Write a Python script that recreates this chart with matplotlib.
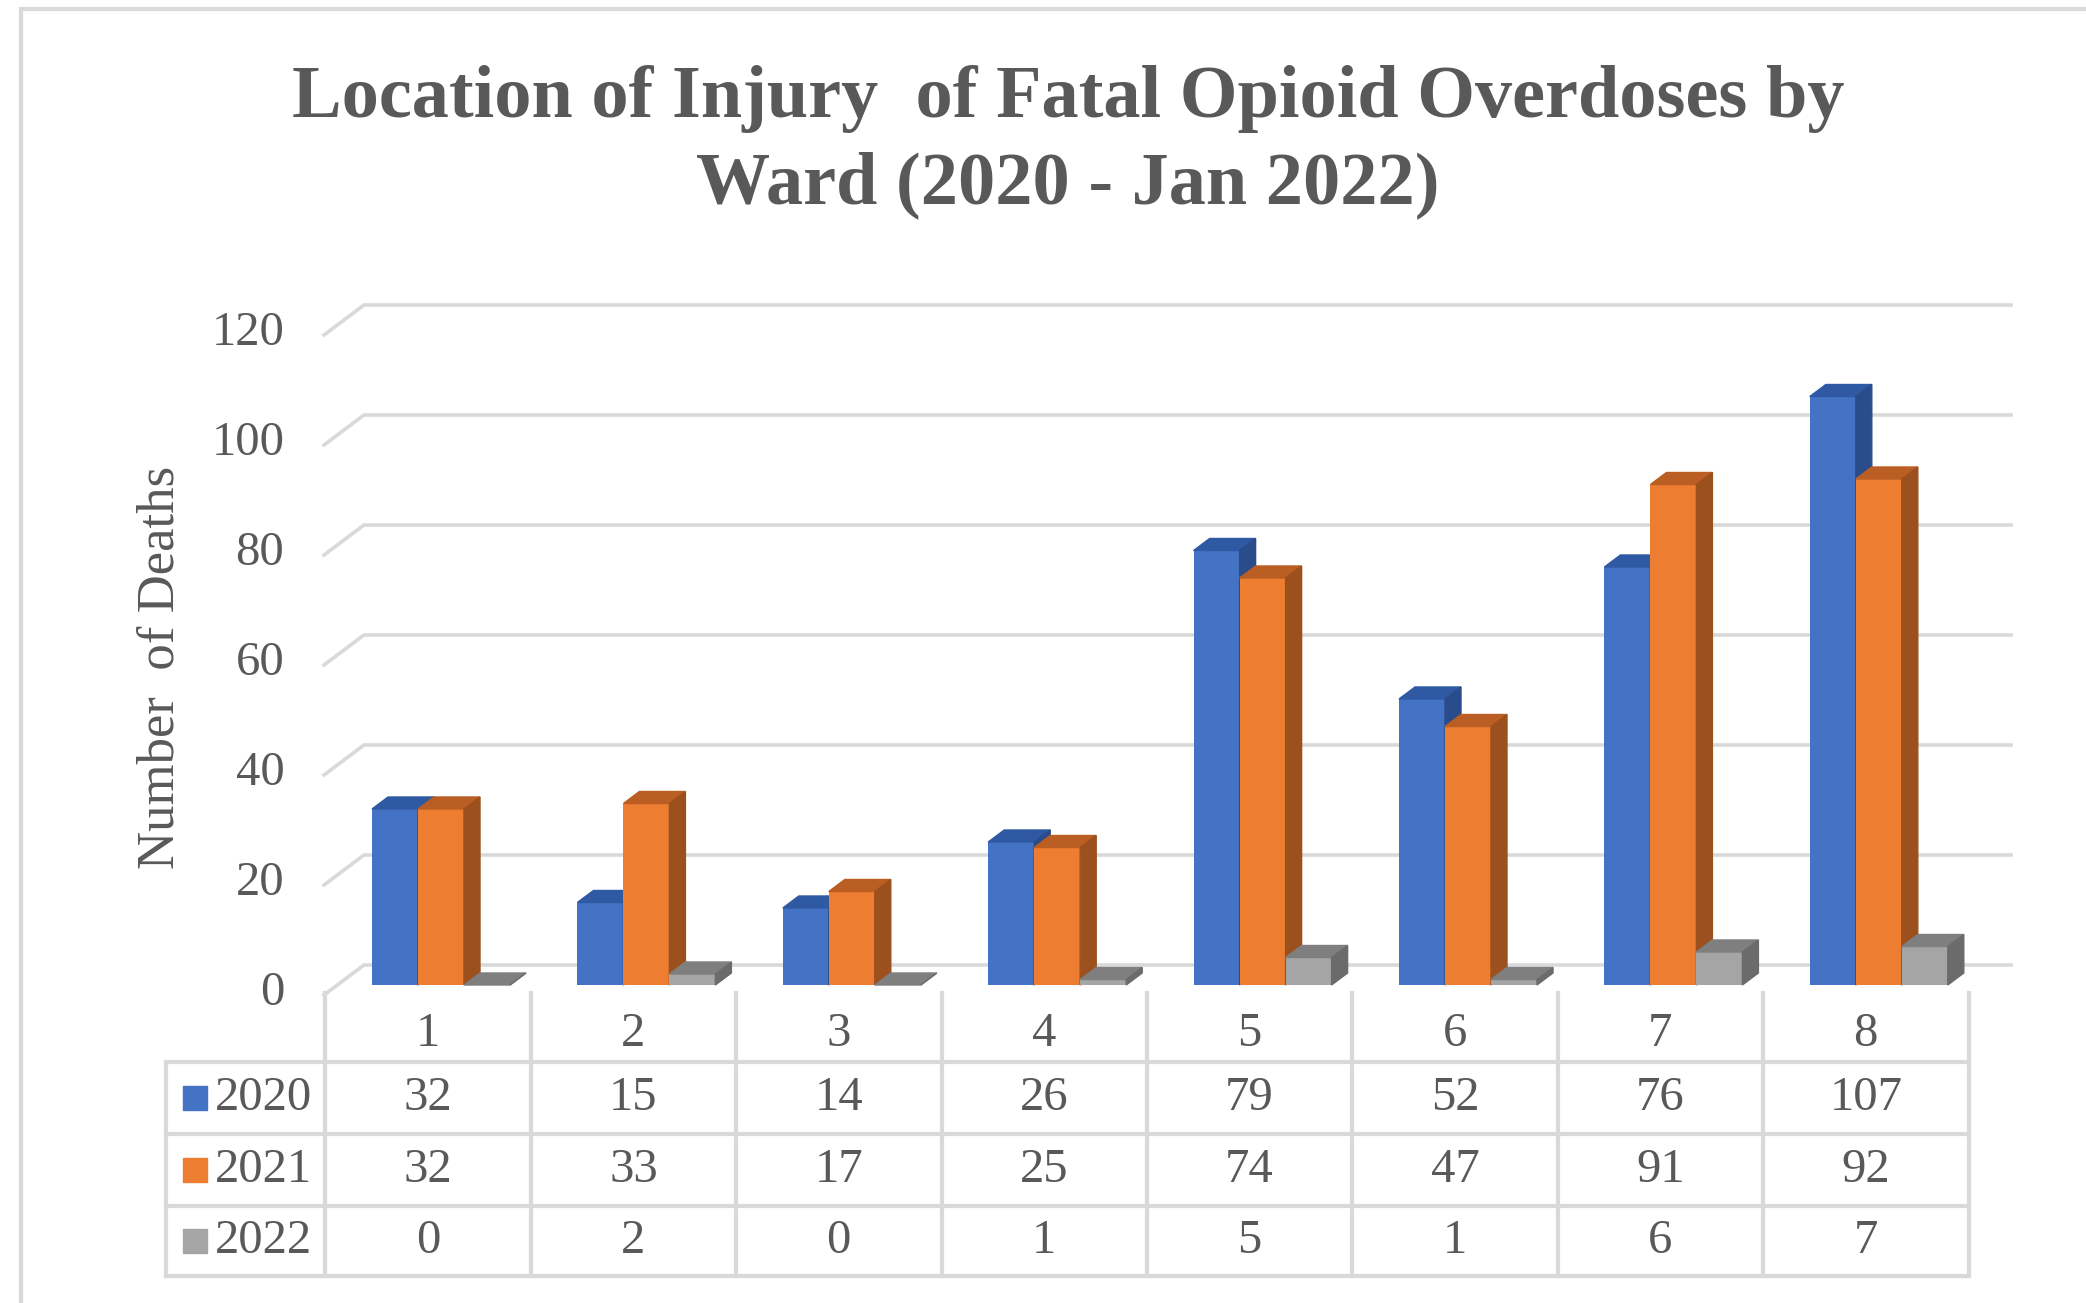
import numpy as np
import matplotlib.pyplot as plt
from matplotlib.patches import Polygon, Rectangle
from matplotlib.lines import Line2D

plt.rcParams['font.family'] = ['Liberation Serif', 'DejaVu Serif']

wards = ['1', '2', '3', '4', '5', '6', '7', '8']
years = ['2020', '2021', '2022']
deaths_2020 = [32, 15, 14, 26, 79, 52, 76, 107]
deaths_2021 = [32, 33, 17, 25, 74, 47, 91, 92]
deaths_2022 = [0, 2, 0, 1, 5, 1, 6, 7]
y_ticks = [0, 20, 40, 60, 80, 100, 120]

series = [deaths_2020, deaths_2021, deaths_2022]
front_colors = ['#4472C4', '#ED7D31', '#A5A5A5']
top_colors = ['#3059A3', '#BA5E23', '#7F7F7F']
side_colors = ['#2A4C8A', '#9C501E', '#6B6B6B']
text_color = '#595959'
line_color = '#D9D9D9'

W, H = 2086, 1303
fig = plt.figure(figsize=(W / 100, H / 100), dpi=100)


def box(x0, y0, x1, y1):
    # pixel box measured from top-left -> figure fraction
    return [x0 / W, 1 - y1 / H, (x1 - x0) / W, (y1 - y0) / H]


# chart area (front plane of the bars)
ax = fig.add_axes(box(338.3, 325, 1981.5, 985))
ax.set_xlim(-0.5, 7.5)
ax.set_ylim(0, 120)
ax.axis('off')

px_x = (1981.5 - 338.3) / 8   # pixels per category
px_y = 660 / 120              # pixels per death
dx = 16 / px_x                # bar depth
dy = 12 / px_y

# back wall gridlines with the little diagonal on the left
fx, bx, ex = -0.5 - 14.3 / px_x, -0.5 + 25.7 / px_x, -0.5 + 1672.7 / px_x
for v in y_ticks:
    ax.plot([fx, bx, ex], [v - 10 / px_y, v + 20 / px_y, v + 20 / px_y],
            color=line_color, lw=2.6, clip_on=False, zorder=1)
    ax.text(-0.5 - 54 / px_x, v - 8 / px_y, str(v), ha='right', va='center',
            fontsize=35, color=text_color)

# 3D-looking bars
w = 46 / px_x
x = np.arange(len(wards))
for s, vals in enumerate(series):
    xs = x + (s - 1) * w
    ax.bar(xs, vals, width=w, color=front_colors[s], zorder=3 + s, clip_on=False)
    for xi, v in zip(xs, vals):
        l, r = xi - w / 2, xi + w / 2
        ax.add_patch(Polygon([(l, v), (r, v), (r + dx, v + dy), (l + dx, v + dy)],
                             closed=True, color=top_colors[s], zorder=3 + s, clip_on=False))
        ax.add_patch(Polygon([(r, 0), (r + dx, dy), (r + dx, v + dy), (r, v)],
                             closed=True, color=side_colors[s], zorder=3 + s, clip_on=False))

fig.text(161 / W, 1 - 667 / H, 'Number  of Deaths', rotation=90, ha='center', va='center',
         fontsize=38, color=text_color)

# data table below the chart
tab = fig.add_axes(box(338.3, 985, 1981.5, 1303))
tab.set_xlim(-0.5, 7.5)
tab.set_ylim(1303, 985)
tab.axis('off')

shift = -13 / px_x
left = -0.5 - 172.7 / px_x
row_lines = [1062, 1134, 1206, 1276]
row_mid = [1098, 1170, 1241]
for k in range(len(wards) + 1):
    tab.plot([k - 0.5 + shift] * 2, [993, 1276], color=line_color, lw=3, clip_on=False)
tab.plot([left, left], [1062, 1276], color=line_color, lw=3, clip_on=False)
for yl in row_lines:
    tab.plot([left, 7.5 + shift], [yl, yl], color=line_color, lw=3, clip_on=False)

for i, wd in enumerate(wards):
    tab.text(i + shift, 1034, wd, ha='center', va='center', fontsize=35, color=text_color)
for s, vals in enumerate(series):
    for i, v in enumerate(vals):
        tab.text(i + shift, row_mid[s], str(v), ha='center', va='center',
                 fontsize=35, color=text_color)
    tab.add_patch(Rectangle((-0.5 - 155.3 / px_x, row_mid[s] - 12), 24 / px_x, 24,
                            color=front_colors[s], clip_on=False))
    tab.text(-0.5 - 123.3 / px_x, row_mid[s], years[s], ha='left', va='center',
             fontsize=35, color=text_color)

# title
fig.text(1068 / W, 1 - 142 / H, 'Location of Injury  of Fatal Opioid Overdoses by\nWard (2020 - Jan 2022)',
         ha='center', va='center', fontsize=53.5, fontweight='bold', color=text_color,
         linespacing=1.36)

# outer chart border (top and left edges visible)
fig.add_artist(Line2D([21 / W, 1], [1 - 9 / H, 1 - 9 / H], color=line_color, lw=3))
fig.add_artist(Line2D([21 / W, 21 / W], [0, 1 - 9 / H], color=line_color, lw=3))

fig.savefig('out.png', dpi=100)
